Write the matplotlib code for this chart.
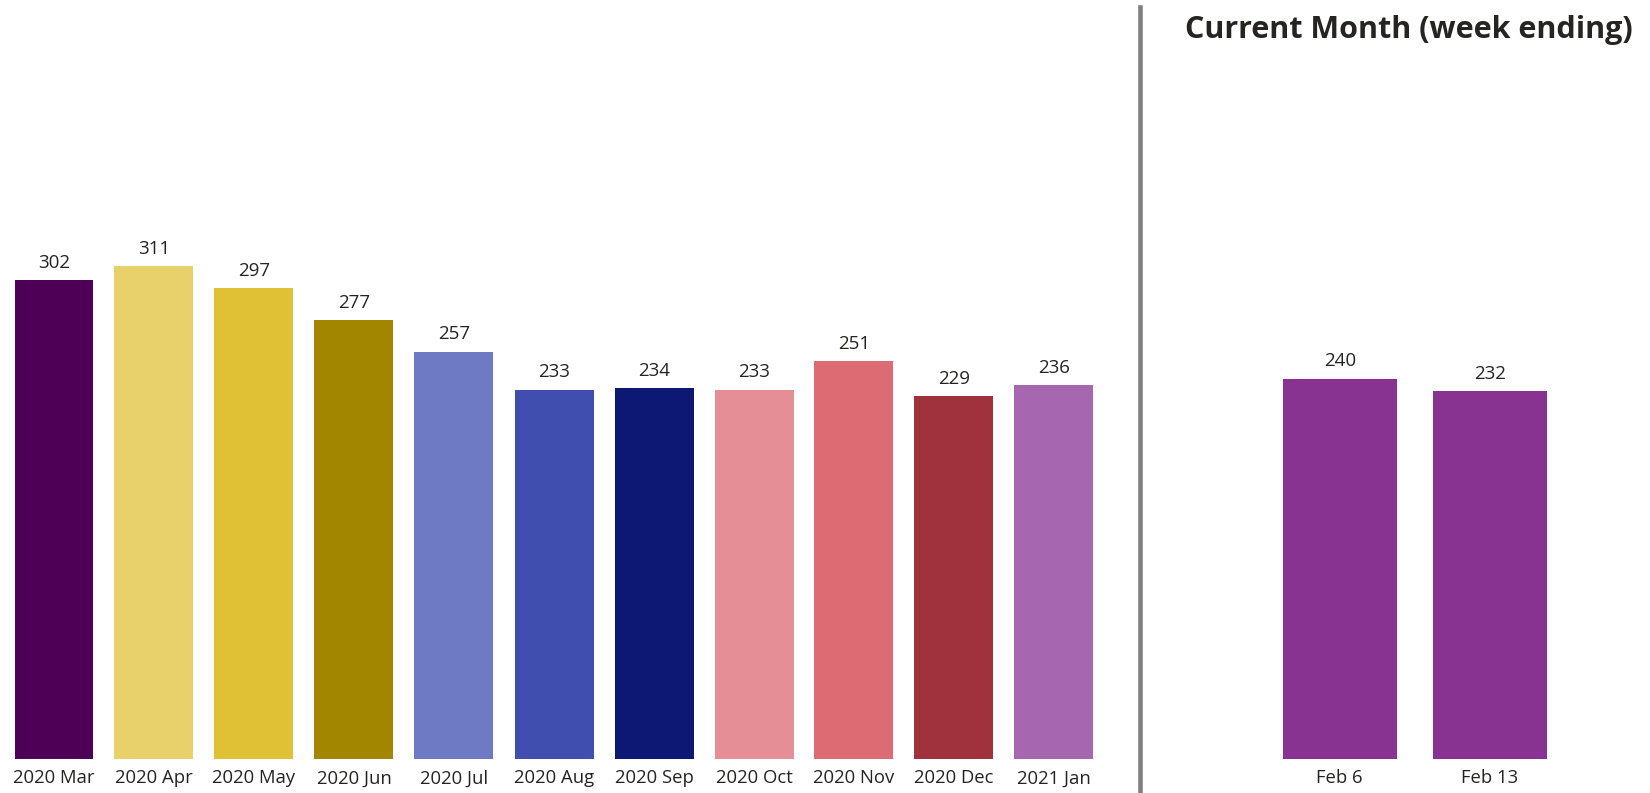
import matplotlib.pyplot as plt

plt.rcParams['font.family'] = ['Open Sans', 'DejaVu Sans']

# Monthly totals
months = ["2020 Mar", "2020 Apr", "2020 May", "2020 Jun", "2020 Jul", "2020 Aug",
          "2020 Sep", "2020 Oct", "2020 Nov", "2020 Dec", "2021 Jan"]
month_values = [302, 311, 297, 277, 257, 233, 234, 233, 251, 229, 236]
month_colors = ["#4D0055", "#E8D16A", "#E0C034", "#A38600", "#6F7AC4", "#404FAF",
                "#0D1875", "#E68E96", "#DD6B73", "#A0323E", "#A667B0"]

# Current month, by week ending
weeks = ["Feb 6", "Feb 13"]
week_values = [240, 232]
week_color = "#883391"

text_col = "#252423"
W, H = 1650, 793
fig = plt.figure(figsize=(W / 100, H / 100), dpi=100)

base = 759   # pixel row of the bar baseline
scale = 1.585  # pixels per unit
ytop = base / scale


def frame(x0, x1):
    return [x0 / W, (H - base) / H, (x1 - x0) / W, base / H]


def style(ax):
    for s in ax.spines.values():
        s.set_visible(False)
    ax.set_yticks([])
    ax.tick_params(axis="x", length=0, pad=7.5, labelsize=13.3, labelcolor=text_col)
    ax.set_ylim(0, ytop)


def label_bars(ax, xs, vals):
    for x, v in zip(xs, vals):
        ax.annotate(str(v), (x, v), xytext=(0, 6), textcoords="offset points",
                    ha="center", va="bottom", fontsize=13.5, color=text_col)


# left: monthly bars, centres at 54 + 100*i px
ax1 = fig.add_axes(frame(0, 1110))
ax1.set_xlim(-0.54, 10.56)
x1 = list(range(len(months)))
ax1.bar(x1, month_values, width=0.79, color=month_colors)
ax1.set_xticks(x1)
ax1.set_xticklabels(months)
label_bars(ax1, x1, month_values)
style(ax1)

# right: weekly bars, centres at 1340 + 150*i px
ax2 = fig.add_axes(frame(1150, 1650))
ax2.set_xlim(-1.265, 2.069)
x2 = list(range(len(weeks)))
ax2.bar(x2, week_values, width=0.76, color=week_color)
ax2.set_xticks(x2)
ax2.set_xticklabels(weeks)
label_bars(ax2, x2, week_values)
style(ax2)

# divider between the two panels
fig.add_artist(plt.Line2D([1139.5 / W, 1139.5 / W], [0, 1 - 7 / H],
                          color="#808080", linewidth=3.3))

fig.text(1633 / W, 1 - 30 / H, "Current Month (week ending)", ha="right", va="center",
         fontsize=22, fontweight="bold", color=text_col)

plt.savefig("out.png", dpi=100)
